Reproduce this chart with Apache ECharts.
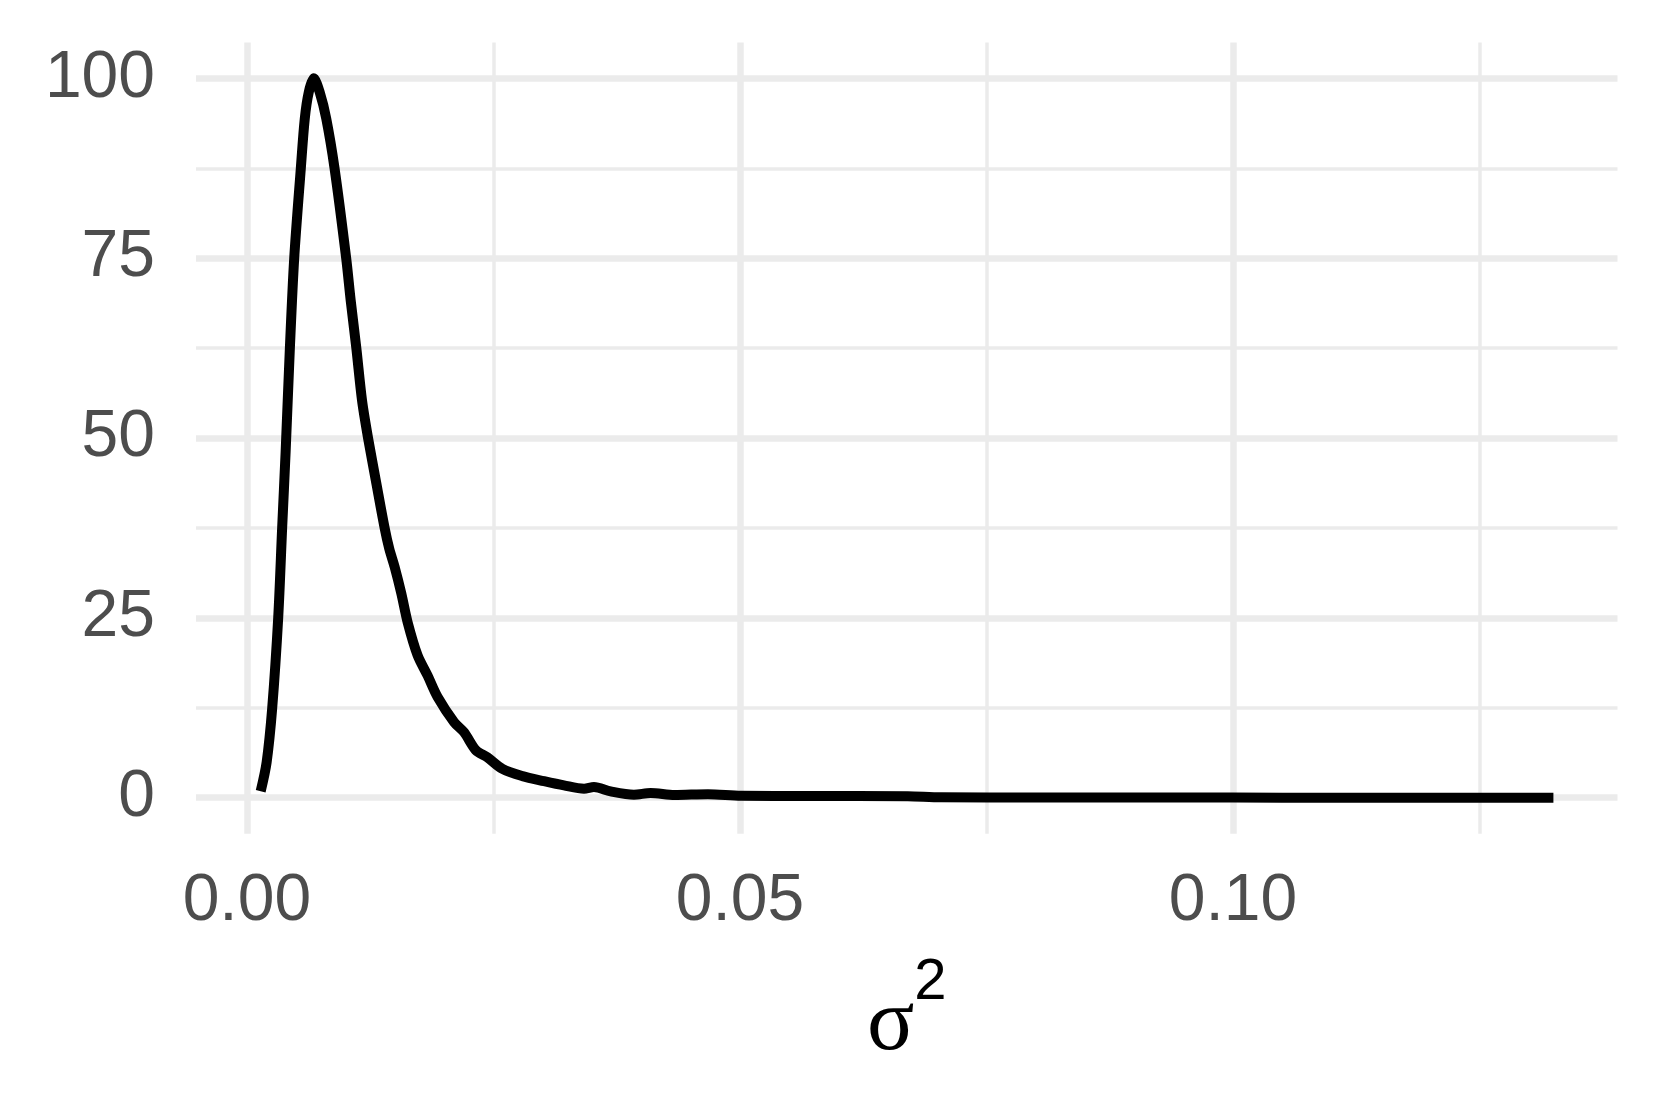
<!DOCTYPE html>
<html>
<head>
<meta charset="utf-8">
<script src="https://cdn.jsdelivr.net/npm/echarts@6/dist/echarts.min.js"></script>
<style>
  html, body { margin: 0; padding: 0; background: #fff; }
  #chart { width: 1661px; height: 1107px; }
</style>
</head>
<body>
<div id="chart"></div>
<script>
// density of sigma^2
const sigma2 = [0.0014, 0.0020, 0.00257, 0.00318, 0.00358, 0.00393, 0.00436, 0.0048, 0.00547,
  0.00587, 0.00628, 0.00678, 0.00738, 0.00805, 0.00889, 0.01007, 0.01053, 0.0111, 0.01168,
  0.01229, 0.01313, 0.01397, 0.01444, 0.01498, 0.01566, 0.0163, 0.01731, 0.01832, 0.01934,
  0.02102, 0.02203, 0.02322, 0.0244, 0.02592, 0.02795, 0.03014, 0.03216, 0.03419, 0.0352,
  0.03689, 0.03925, 0.04094, 0.04337, 0.04676, 0.05013, 0.05689, 0.06702, 0.0704, 0.08,
  0.09, 0.10, 0.11, 0.12, 0.1325]
const density = [0.9, 4.9, 12.5, 25.1, 37.6, 48.1, 62.5, 75, 87.5,
  94.4, 98.1, 100, 98.1, 94.4, 87.5, 75, 69.1, 62.5, 55.2,
  50, 43.7, 37.5, 34.6, 32.1, 28.4, 24.4, 19.8, 17.0, 14.0,
  10.5, 9.1, 6.6, 5.6, 4.0, 3.0, 2.3, 1.71, 1.25, 1.48,
  0.88, 0.42, 0.65, 0.37, 0.5, 0.28, 0.25, 0.2, 0.05, 0.04,
  0.03, 0.02, 0.01, 0.01, 0.01]

const xBreaks = [0, 0.05, 0.10]
const xMinor = [0.025, 0.075, 0.125]
const yBreaks = [0, 25, 50, 75, 100]
const yMinor = [12.5, 37.5, 62.5, 87.5]

const grey = '#EBEBEB'
const major = 6.5, minor = 3.5

const chart = echarts.init(document.getElementById('chart'))

const gridLines = []
xBreaks.forEach(v => gridLines.push({ xAxis: v, lineStyle: { width: major } }))
xMinor.forEach(v => gridLines.push({ xAxis: v, lineStyle: { width: minor } }))
yBreaks.forEach(v => gridLines.push({ yAxis: v, lineStyle: { width: major } }))
yMinor.forEach(v => gridLines.push({ yAxis: v, lineStyle: { width: minor } }))

const option = {
  backgroundColor: '#fff',
  animation: false,
  grid: { left: 196, right: 43.5, top: 42.4, bottom: 273.3 },
  xAxis: {
    type: 'value',
    min: -0.00516,
    max: 0.1390,
    axisLine: { show: false },
    axisTick: { show: false },
    splitLine: { show: false },
    axisLabel: {
      customValues: xBreaks,
      formatter: v => v.toFixed(2),
      fontFamily: 'Liberation Sans',
      fontSize: 66,
      color: '#4D4D4D',
      margin: 35
    },
    name: '{s|σ}{p|2}',
    nameLocation: 'middle',
    nameGap: 120,
    nameTextStyle: {
      rich: {
        s: { fontFamily: 'Liberation Serif', fontSize: 88, color: '#000' },
        p: { fontFamily: 'Liberation Sans', fontSize: 58, color: '#000', padding: [0, 0, 86, 0] }
      }
    }
  },
  yAxis: {
    type: 'value',
    min: -5,
    max: 105,
    axisLine: { show: false },
    axisTick: { show: false },
    splitLine: { show: false },
    axisLabel: {
      customValues: yBreaks,
      fontFamily: 'Liberation Sans',
      fontSize: 66,
      color: '#4D4D4D',
      margin: 41
    }
  },
  series: [
    {
      // panel grid
      type: 'line',
      data: [],
      silent: true,
      z: 1,
      markLine: {
        silent: true,
        z: 1,
        symbol: 'none',
        precision: 5,
        label: { show: false },
        lineStyle: { color: grey, type: 'solid' },
        emphasis: { disabled: true },
        data: gridLines
      }
    },
    {
      type: 'line',
      z: 3,
      data: sigma2.map((x, i) => [x, density[i]]),
      showSymbol: false,
      smooth: 0.3,
      emphasis: { disabled: true },
      lineStyle: { color: '#000', width: 10, join: 'round', cap: 'butt' }
    }
  ]
}

chart.setOption(option)
</script>
</body>
</html>
